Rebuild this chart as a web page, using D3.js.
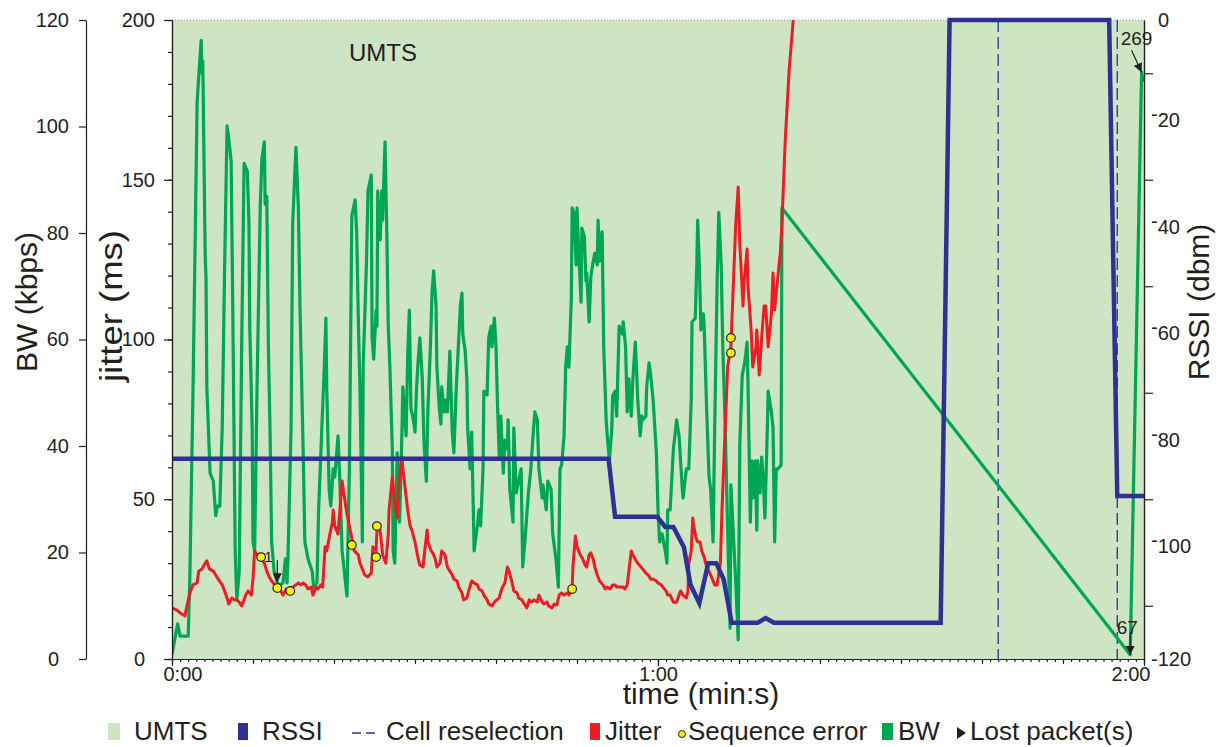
<!DOCTYPE html>
<html>
<head>
<meta charset="utf-8">
<script src="https://cdn.jsdelivr.net/npm/d3@7"></script>
<style>
  body { margin: 0; background: #fff; }
  svg text { font-family: "Liberation Sans", Arial, sans-serif; fill: #231f20; }
  .axis path, .axis line { stroke: #231f20; stroke-width: 1.2; }
</style>
</head>
<body>
<svg id="chart" width="1226" height="747"></svg>
<script>

// ---- data: [time (s), value] ----

// BW (kbps), green
const bwSeries = [
  [0,0.8],[0.7,6.6],[1.0,4.3],[2.0,4.3],[2.2,15.0],[2.6,51.1],[3.1,104.6],[3.3,109.3],[3.6,116.2],[3.7,110.0],[3.8,112.3],
  [4.1,75.5],[4.2,71.7],[4.3,51.1],[4.7,34.9],[5.1,33.4],[5.2,31.2],[5.4,26.9],[5.6,28.7],[5.9,28.7],[6.2,43.4],[6.5,74.0],
  [6.8,100.1],[7.0,97.8],[7.3,93.5],[7.5,66.3],[7.8,20.3],[8.0,11.1],[8.3,16.5],[8.6,58.6],[8.9,93.1],[9.3,91.6],[9.5,81.7],
  [9.6,62.5],[9.9,43.4],[10.0,22.0],[10.2,20.3],[10.5,51.1],[10.9,85.4],[11.1,93.9],[11.4,97.1],[11.5,85.4],[11.7,86.9],
  [11.9,58.6],[12.1,43.4],[12.3,22.0],[12.6,16.5],[13.0,14.3],[13.3,13.9],[13.7,14.3],[14.0,18.8],[14.2,14.3],[14.3,18.0],
  [14.7,43.4],[14.9,81.7],[15.3,96.1],[15.6,84.7],[15.8,66.3],[16.2,38.7],[16.4,22.0],[16.8,18.8],[17.3,16.5],[17.5,13.5],
  [17.9,14.3],[18.1,28.0],[18.5,43.4],[18.8,54.8],[19.0,64.0],[19.1,51.1],[19.4,31.9],[19.6,28.7],[19.9,35.7],[20.1,34.2],
  [20.5,41.9],[20.7,34.2],[21.0,20.3],[21.6,11.8],[21.9,35.7],[22.1,67.8],[22.2,83.2],[22.6,86.2],[22.8,80.2],[23.0,64.0],
  [23.2,51.1],[23.5,22.0],[23.6,54.8],[24.0,74.0],[24.2,87.9],[24.6,90.9],[24.7,60.3],[24.9,56.3],[25.2,65.5],[25.3,62.5],
  [25.4,87.9],[25.7,78.7],[25.9,87.9],[26.0,82.4],[26.3,97.1],[26.5,81.7],[26.7,62.5],[26.9,54.8],[27.2,39.4],[27.3,20.3],
  [27.5,18.0],[27.8,38.7],[27.9,35.7],[28.1,25.7],[28.4,43.4],[28.5,51.1],[28.9,41.9],[29.1,57.1],[29.3,65.5],[29.5,47.1],
  [29.8,44.9],[30.0,42.6],[30.2,51.1],[30.4,56.3],[30.6,60.3],[30.9,52.6],[31.1,41.1],[31.4,33.4],[31.6,47.1],[31.9,58.6],
  [32.1,68.7],[32.3,72.9],[32.6,66.3],[32.7,54.8],[33.0,47.1],[33.2,44.1],[33.3,51.1],[33.6,46.4],[33.8,48.6],[34.0,46.4],
  [34.3,57.8],[34.6,42.6],[34.8,38.7],[35.1,51.1],[35.3,57.1],[35.6,66.3],[35.8,68.7],[35.9,61.0],[36.2,57.8],[36.4,52.6],
  [36.5,43.4],[36.8,35.7],[37.0,42.6],[37.3,20.3],[37.7,25.0],[37.9,28.0],[38.1,25.0],[38.4,35.7],[38.5,50.3],[38.9,49.6],
  [39.1,60.3],[39.4,62.5],[39.5,58.6],[39.8,64.0],[40.0,58.6],[40.2,47.1],[40.4,37.9],[40.6,45.6],[40.9,34.9],[41.1,41.1],
  [41.4,39.4],[41.5,44.9],[41.7,31.9],[42.1,25.7],[42.2,43.4],[42.5,31.2],[42.7,32.7],[43.1,35.7],[43.3,17.3],[43.6,22.7],
  [44.0,31.2],[44.3,35.7],[44.6,42.6],[44.8,46.4],[45.1,44.9],[45.3,35.7],[45.7,30.2],[45.8,32.7],[46.2,28.0],[46.4,33.4],
  [46.8,31.9],[47.0,23.5],[47.4,18.8],[47.7,13.5],[47.9,35.7],[48.1,36.4],[48.4,41.9],[48.6,54.8],[48.8,58.6],[49.0,54.8],
  [49.3,67.8],[49.4,84.7],[49.6,83.9],[49.9,74.0],[50.0,84.7],[50.2,77.0],[50.5,67.0],[50.6,80.9],[50.9,79.4],[51.1,71.0],
  [51.2,72.5],[51.5,63.3],[51.7,71.7],[52.0,74.7],[52.2,76.2],[52.5,74.0],[52.6,82.4],[52.8,74.7],[53.1,80.2],[53.3,58.6],
  [53.6,44.9],[53.7,42.6],[54.0,37.2],[54.3,43.4],[54.4,49.4],[54.7,50.3],[54.9,45.6],[55.2,62.5],[55.6,61.0],[55.7,63.3],
  [56.0,58.6],[56.2,46.4],[56.4,52.6],[56.7,45.6],[56.9,52.6],[57.2,59.5],[57.4,52.6],[57.5,48.6],[57.8,41.9],[58.0,45.6],
  [58.1,44.9],[58.5,45.6],[58.6,51.1],[58.9,55.6],[59.1,53.3],[59.4,48.6],[59.8,38.7],[60.0,28.0],[60.2,22.0],[60.5,23.5],
  [60.9,20.3],[61.1,18.0],[61.2,28.0],[61.5,28.0],[61.9,39.4],[62.3,44.9],[62.6,41.9],[63.0,31.9],[63.1,30.2],[63.5,35.7],
  [63.8,35.7],[64.1,48.6],[64.2,63.3],[64.6,64.0],[64.8,74.7],[64.9,82.4],[65.1,74.0],[65.3,61.8],[65.6,64.8],[65.7,62.5],
  [66.0,47.1],[66.3,34.2],[66.5,31.9],[66.8,22.0],[67.0,43.4],[67.3,71.0],[67.4,77.0],[67.5,83.9],[67.8,74.0],[68.0,58.6],
  [68.3,43.4],[68.6,24.2],[68.9,5.8],[69.0,32.7],[69.3,23.5],[69.6,14.3],[69.9,3.6],[70.1,40.4],[70.4,53.3],[70.7,55.6],
  [71.0,59.5],[71.1,52.6],[71.4,25.7],[71.6,37.2],[71.7,30.2],[72.0,37.2],[72.2,24.2],[72.3,37.2],[72.6,31.2],[72.8,37.9],
  [73.0,33.4],[73.2,26.5],[73.5,43.4],[73.6,50.3],[74.0,46.4],[74.2,43.4],[74.4,22.0],[74.6,35.7],[74.8,35.7],[75.2,36.4],
  [75.3,84.7],[118.3,0.8],[119.7,110.2],[119.9,108.4]
];

// jitter (ms), red
const jitterSeries = [
  [0,16.0],[0.6,15.3],[1.2,14.1],[1.6,13.5],[2.0,18.5],[2.3,21.3],[2.6,23.2],[3.1,23.8],[3.3,27.5],[3.7,28.2],[4.1,30.0],
  [4.3,30.7],[4.6,28.2],[5.1,27.5],[5.4,26.3],[5.7,25.0],[6.2,23.2],[6.4,21.9],[6.8,19.1],[7.0,17.2],[7.4,19.1],[7.7,18.5],
  [8.0,18.5],[8.3,17.8],[8.6,16.6],[8.9,18.5],[9.1,20.0],[9.4,21.3],[9.8,20.0],[10.0,25.0],[10.2,33.8],[10.5,32.6],[10.7,32.6],
  [11.1,31.3],[11.4,30.0],[11.7,27.5],[12.0,25.7],[12.3,24.4],[12.7,23.2],[13.0,21.9],[13.3,21.9],[13.7,20.0],[14.1,21.9],
  [14.3,21.3],[14.7,21.3],[14.9,22.5],[15.3,23.2],[15.6,23.8],[15.9,23.2],[16.2,23.8],[16.5,23.2],[16.8,21.9],[17.2,22.5],
  [17.4,20.0],[17.8,22.5],[18.0,21.9],[18.4,23.2],[18.6,22.5],[18.9,35.1],[19.1,33.8],[19.4,37.9],[19.8,42.9],[19.9,46.6],
  [20.1,41.6],[20.5,39.1],[21.0,55.7],[21.2,52.0],[21.6,45.4],[21.9,41.6],[22.2,37.9],[22.5,33.8],[23.0,32.6],[23.2,30.0],
  [23.5,28.2],[23.8,26.3],[24.2,25.7],[24.6,26.9],[24.8,35.1],[25.2,33.8],[25.3,40.4],[25.6,41.6],[25.8,37.9],[26.0,32.6],
  [26.4,30.0],[26.7,39.1],[26.8,46.6],[27.2,57.0],[27.3,54.5],[27.5,49.1],[27.8,44.1],[28.0,54.5],[28.4,63.2],[28.5,59.5],
  [28.8,53.2],[29.1,46.6],[29.4,41.6],[29.6,40.4],[30.0,36.6],[30.4,31.3],[30.6,29.4],[31.0,28.8],[31.2,33.8],[31.5,40.4],
  [31.6,36.6],[32.0,33.8],[32.2,33.2],[32.5,31.3],[32.7,28.8],[33.1,30.0],[33.3,33.8],[33.7,32.6],[34.0,28.8],[34.3,27.5],
  [34.6,26.3],[34.8,25.0],[35.2,24.4],[35.4,22.5],[35.8,20.7],[36.0,18.5],[36.4,19.1],[36.7,21.9],[37.0,24.4],[37.3,23.8],
  [37.7,23.2],[37.9,21.9],[38.3,21.3],[38.5,20.0],[38.9,18.5],[39.1,17.2],[39.5,16.6],[39.8,17.8],[40.1,18.5],[40.4,19.1],
  [40.7,21.9],[41.1,23.8],[41.4,28.8],[41.6,27.5],[42.0,23.8],[42.2,21.3],[42.6,20.7],[42.8,19.1],[43.2,18.5],[43.5,17.2],
  [43.8,16.0],[44.1,18.5],[44.4,17.8],[44.7,18.5],[45.1,17.8],[45.3,20.0],[45.7,17.8],[45.9,17.2],[46.3,17.8],[46.5,16.6],
  [46.9,16.0],[47.2,17.2],[47.5,16.9],[47.8,20.0],[48.1,20.7],[48.4,20.0],[48.8,20.7],[49.0,20.0],[49.4,21.9],[49.5,28.8],
  [49.8,38.5],[50.0,35.1],[50.4,32.6],[50.7,31.3],[51.0,29.4],[51.2,28.8],[51.5,32.6],[51.7,33.2],[52.0,31.3],[52.2,28.8],
  [52.5,26.3],[52.8,24.4],[53.2,23.2],[53.5,21.9],[53.7,22.5],[54.1,21.9],[54.4,23.2],[54.7,23.2],[54.9,22.5],[55.3,22.5],
  [55.7,22.5],[55.9,21.9],[56.2,23.2],[56.4,27.5],[56.7,33.8],[56.9,32.6],[57.3,30.7],[57.5,30.0],[57.9,28.8],[58.1,28.2],
  [58.5,26.9],[58.8,26.3],[59.1,25.0],[59.4,25.0],[59.8,24.4],[60.0,23.8],[60.4,23.2],[60.6,22.5],[61.0,21.3],[61.2,20.0],
  [61.5,20.0],[61.9,17.8],[62.3,17.8],[62.6,20.0],[62.8,21.3],[63.1,20.0],[63.5,19.1],[63.7,21.3],[63.8,30.0],[64.1,33.8],
  [64.3,44.1],[64.4,41.6],[64.7,37.9],[64.9,36.6],[65.2,36.6],[65.4,33.8],[65.7,31.9],[66.0,28.8],[66.3,27.5],[66.5,26.3],
  [66.8,24.4],[67.0,23.2],[67.3,23.2],[67.4,25.0],[67.7,30.0],[67.9,46.6],[68.3,72.3],[68.6,91.4],[69.0,97.7],[69.3,117.1],
  [69.6,136.2],[69.9,147.7],[70.1,129.9],[70.5,110.5],[70.6,117.1],[71.0,128.3],[71.1,117.1],[71.5,103.0],[71.7,91.4],
  [72.1,97.7],[72.2,103.0],[72.5,88.9],[72.8,100.5],[73.1,110.5],[73.3,110.5],[73.6,97.7],[74.0,108.0],[74.2,120.8],
  [74.4,109.2],[74.7,117.1],[75.1,127.1],[75.3,136.2],[75.7,161.8],[76.2,184.7],[76.7,200.0],[77.1,215.0]
];

// RSSI (dbm), blue
const rssiSeries = [
  [0,-82.4],[53.9,-82.4],[54.7,-93.3],[59.9,-93.3],[60.9,-95.2],[61.9,-95.2],[63.2,-99],[64.0,-106],[65.1,-109.5],
  [66.2,-102],[67.2,-102],[68.1,-105],[69.1,-113.2],[72.3,-113.2],[73.3,-112.3],[74.3,-113.2],[94.9,-113.2],
  [96.0,0],[115.7,0],[116.7,-89.4],[120,-89.4]
];

// sequence errors, on the jitter curve
const seqErrors = [[11.0,31.9],[13.0,22.2],[14.6,21.3],[22.2,35.7],[25.2,31.9],[25.3,41.6],[49.4,21.9],[69.0,100.5],[69.0,95.8]];

// lost packets: [time, value, axis, count]
const lostPackets = [[13.0,24.0,"jitter","1"],[118.3,0.8,"bw","67"],[119.7,110.2,"bw","269"]];

const cellReselections = [102.0, 116.7];
const umtsPeriod = [0, 120];

const bwTicks = [0, 20, 40, 60, 80, 100, 120];
const jitterTicks = [0, 50, 100, 150, 200];
const rssiTicks = [-120, -100, -80, -60, -40, -20, 0];
const timeTicks = [0, 60, 120];
const timeLabels = ["0:00", "1:00", "2:00"];

const legendItems = ["UMTS", "RSSI", "Cell reselection", "Jitter", "Sequence error", "BW", "Lost packet(s)"];


// ---- colours ----
const umtsColor = "#cde5c3";
const rssiColor = "#2e3192";
const jitterColor = "#ed1c24";
const bwColor = "#00a651";
const seqColor = "#fff200";
const ink = "#231f20";

const svg = d3.select("#chart");
const plot = { left: 172, right: 1144, top: 20, bottom: 659 };

// scales
const x = d3.scaleLinear().domain([0, 120]).range([plot.left, plot.right]);
const yJitter = d3.scaleLinear().domain([0, 200]).range([plot.bottom, plot.top]);
const yBW = d3.scaleLinear().domain([0, 120]).range([plot.bottom, plot.top]);
const yRSSI = d3.scaleLinear().domain([-120, 0]).range([plot.bottom, plot.top]);

svg.append("defs").append("clipPath").attr("id", "plotClip")
  .append("rect")
    .attr("x", plot.left).attr("y", plot.top)
    .attr("width", plot.right - plot.left).attr("height", plot.bottom - plot.top);

const arrowHead = svg.select("defs").append("marker")
  .attr("id", "arrowHead")
  .attr("viewBox", "0 0 10 10")
  .attr("refX", 10).attr("refY", 5)
  .attr("markerWidth", 9).attr("markerHeight", 9)
  .attr("markerUnits", "userSpaceOnUse")
  .attr("orient", "auto");
arrowHead.append("path").attr("d", "M0,0 L10,5 L0,10 Z").attr("fill", ink);

// UMTS background
svg.append("rect")
  .attr("x", x(umtsPeriod[0])).attr("y", plot.top)
  .attr("width", x(umtsPeriod[1]) - x(umtsPeriod[0]))
  .attr("height", plot.bottom - plot.top)
  .attr("fill", umtsColor);

svg.append("line")
  .attr("x1", plot.left).attr("x2", plot.right)
  .attr("y1", plot.top).attr("y2", plot.top)
  .attr("stroke", "#b89a80").attr("stroke-width", 1)
  .attr("stroke-dasharray", "1,2");

svg.append("text")
  .attr("x", 349).attr("y", 61)
  .style("font-size", "24px")
  .text("UMTS");

// cell reselection (dashed)
svg.selectAll(".cellResel")
  .data(cellReselections)
  .enter().append("line")
    .attr("class", "cellResel")
    .attr("x1", d => x(d)).attr("x2", d => x(d))
    .attr("y1", plot.top).attr("y2", plot.bottom)
    .attr("stroke", rssiColor).attr("stroke-width", 1.3)
    .attr("stroke-dasharray", "12,5");


// ---- series ----
const bwLine = d3.line().x(d => x(d[0])).y(d => yBW(d[1]));
const jitterLine = d3.line().x(d => x(d[0])).y(d => yJitter(d[1]));
const rssiLine = d3.line().x(d => x(d[0])).y(d => yRSSI(d[1]));

const series = svg.append("g").attr("clip-path", "url(#plotClip)");

series.append("path")
  .datum(bwSeries)
  .attr("d", bwLine)
  .attr("fill", "none")
  .attr("stroke", bwColor)
  .attr("stroke-width", 3.2)
  .attr("stroke-linejoin", "round");

series.append("path")
  .datum(jitterSeries)
  .attr("d", jitterLine)
  .attr("fill", "none")
  .attr("stroke", jitterColor)
  .attr("stroke-width", 3)
  .attr("stroke-linejoin", "round");

// blue on top, not clipped (it sits right on the top edge)
svg.append("path")
  .datum(rssiSeries)
  .attr("d", rssiLine)
  .attr("fill", "none")
  .attr("stroke", rssiColor)
  .attr("stroke-width", 4.5)
  .attr("stroke-linejoin", "miter");

// sequence errors
svg.selectAll(".seqErr")
  .data(seqErrors)
  .enter().append("circle")
    .attr("class", "seqErr")
    .attr("cx", d => x(d[0]))
    .attr("cy", d => yJitter(d[1]))
    .attr("r", 4.3)
    .attr("fill", seqColor)
    .attr("stroke", ink)
    .attr("stroke-width", 1.2);

// lost packets: arrow pointing at the point, count written above-left
const lostLean = [0, 0, 10];          // the 269 arrow comes in slanted
const lostLabelShift = [[-9, 2], [-3, 1], [5, -5]];
lostPackets.forEach((p, i) => {
  const yScale = p[2] === "bw" ? yBW : yJitter;
  const tipX = x(p[0]), tipY = yScale(p[1]);
  const x0 = tipX - lostLean[i], y0 = tipY - 22;
  svg.append("line")
    .attr("x1", x0).attr("y1", y0)
    .attr("x2", tipX).attr("y2", tipY)
    .attr("stroke", ink).attr("stroke-width", 1.2)
    .attr("marker-end", "url(#arrowHead)");
  svg.append("text")
    .attr("x", x0 + lostLabelShift[i][0])
    .attr("y", y0 + lostLabelShift[i][1])
    .attr("text-anchor", "middle")
    .style("font-size", i === 0 ? "15px" : "19px")
    .text(p[3]);
});


// ---- axes ----

// BW axis, detached on the far left
const bwAxis = svg.append("g")
  .attr("class", "axis")
  .attr("transform", "translate(86,0)")
  .call(d3.axisLeft(yBW).tickValues(bwTicks).tickSize(7).tickSizeOuter(0).tickPadding(10))
  .style("font-size", "20px");

// jitter axis on the plot edge, minor every 10 ms
svg.append("g")
  .attr("class", "axis")
  .attr("transform", `translate(${plot.left},0)`)
  .call(d3.axisLeft(yJitter).tickValues(d3.range(0, 201, 10)).tickSize(4).tickSizeOuter(0).tickFormat(""));
const jitterAxis = svg.append("g")
  .attr("class", "axis")
  .attr("transform", `translate(${plot.left},0)`)
  .call(d3.axisLeft(yJitter).tickValues(jitterTicks).tickSize(8).tickSizeOuter(0).tickPadding(9))
  .style("font-size", "20px");

// zero labels sit a little further left in the original
[bwAxis, jitterAxis].forEach(g => {
  g.selectAll(".tick text").filter(d => d === 0).attr("dx", -10);
});

// RSSI axis on the right, minor ticks on the odd tens
svg.append("g")
  .attr("class", "axis")
  .attr("transform", `translate(${plot.right},0)`)
  .call(d3.axisRight(yRSSI).tickValues(d3.range(-110, 0, 20)).tickSize(9).tickSizeOuter(0).tickFormat(""));
const rssiAxis = svg.append("g")
  .attr("class", "axis")
  .attr("transform", `translate(${plot.right},0)`)
  .call(d3.axisRight(yRSSI).tickValues(rssiTicks).tickSize(0).tickSizeOuter(0).tickPadding(7))
  .style("font-size", "20px");

// raised minus like the printed figure
rssiAxis.selectAll(".tick text").each(function(d) {
  const t = d3.select(this);
  t.text(null);
  if (d === 0) {
    t.attr("x", 14).text("0");
  } else if (d === -120) {
    t.text("-120");
  } else {
    t.append("tspan").attr("dy", "-0.3em").text("-");
    t.append("tspan").attr("dy", "0.3em").text(String(-d));
  }
});

// time axis: minor each second, medium each 10 s, labelled minutes
svg.append("g")
  .attr("class", "axis")
  .attr("transform", `translate(0,${plot.bottom})`)
  .call(d3.axisBottom(x).tickValues(d3.range(0, 121, 1)).tickSize(3).tickSizeOuter(0).tickFormat(""));
svg.append("g")
  .attr("class", "axis")
  .attr("transform", `translate(0,${plot.bottom})`)
  .call(d3.axisBottom(x).tickValues(d3.range(0, 121, 10)).tickSize(5).tickSizeOuter(0).tickFormat(""));
const timeAxis = svg.append("g")
  .attr("class", "axis")
  .attr("transform", `translate(0,${plot.bottom})`)
  .call(d3.axisBottom(x).tickValues(timeTicks).tickSize(7).tickSizeOuter(0).tickPadding(1)
        .tickFormat((d, i) => timeLabels[i]))
  .style("font-size", "20px");

// first label hangs right of its tick, last one left of it
timeAxis.selectAll(".tick text")
  .attr("text-anchor", (d, i) => i === 0 ? "start" : (i === timeTicks.length - 1 ? "end" : "middle"))
  .attr("dx", (d, i) => i === 0 ? -9 : (i === timeTicks.length - 1 ? 6 : 0));

svg.selectAll(".axis text").style("fill", ink).style("font-family", '"Liberation Sans", Arial, sans-serif');


// ---- axis titles ----
svg.append("text")
  .attr("transform", "translate(37,302) rotate(-90)")
  .attr("text-anchor", "middle")
  .style("font-size", "30px")
  .text("BW (kbps)");

svg.append("text")
  .attr("transform", "translate(122,306) rotate(-90)")
  .attr("text-anchor", "middle")
  .attr("textLength", 152)
  .attr("lengthAdjust", "spacingAndGlyphs")
  .style("font-size", "31px")
  .text("jitter (ms)");

svg.append("text")
  .attr("transform", "translate(1209,302) rotate(-90)")
  .attr("text-anchor", "middle")
  .style("font-size", "30px")
  .text("RSSI (dbm)");

svg.append("text")
  .attr("x", 701).attr("y", 704)
  .attr("text-anchor", "middle")
  .style("font-size", "30px")
  .text("time (min:s)");


// ---- legend ----
const legendY = 740;
const legendTextX = [134, 262, 386, 605, 688, 898, 970];
const legend = svg.append("g").style("font-size", "26px");

legend.append("rect").attr("x", 108).attr("y", 723).attr("width", 12).attr("height", 17).attr("fill", umtsColor);
legend.append("rect").attr("x", 238).attr("y", 723).attr("width", 10).attr("height", 17).attr("fill", rssiColor);
legend.append("line").attr("x1", 352).attr("x2", 379).attr("y1", 733).attr("y2", 733)
  .attr("stroke", rssiColor).attr("stroke-width", 1.5).attr("stroke-dasharray", "9,5");
legend.append("rect").attr("x", 590).attr("y", 723).attr("width", 10).attr("height", 17).attr("fill", jitterColor);
legend.append("circle").attr("cx", 682).attr("cy", 734).attr("r", 3.5)
  .attr("fill", seqColor).attr("stroke", ink).attr("stroke-width", 1);
legend.append("rect").attr("x", 882).attr("y", 723).attr("width", 11).attr("height", 17).attr("fill", bwColor);
legend.append("path").attr("d", "M957,727 L966,733 L957,739 Z").attr("fill", ink);

legend.selectAll(".legendText")
  .data(legendItems)
  .enter().append("text")
    .attr("class", "legendText")
    .attr("x", (d, i) => legendTextX[i])
    .attr("y", legendY)
    .text(d => d);

</script>
</body>
</html>
